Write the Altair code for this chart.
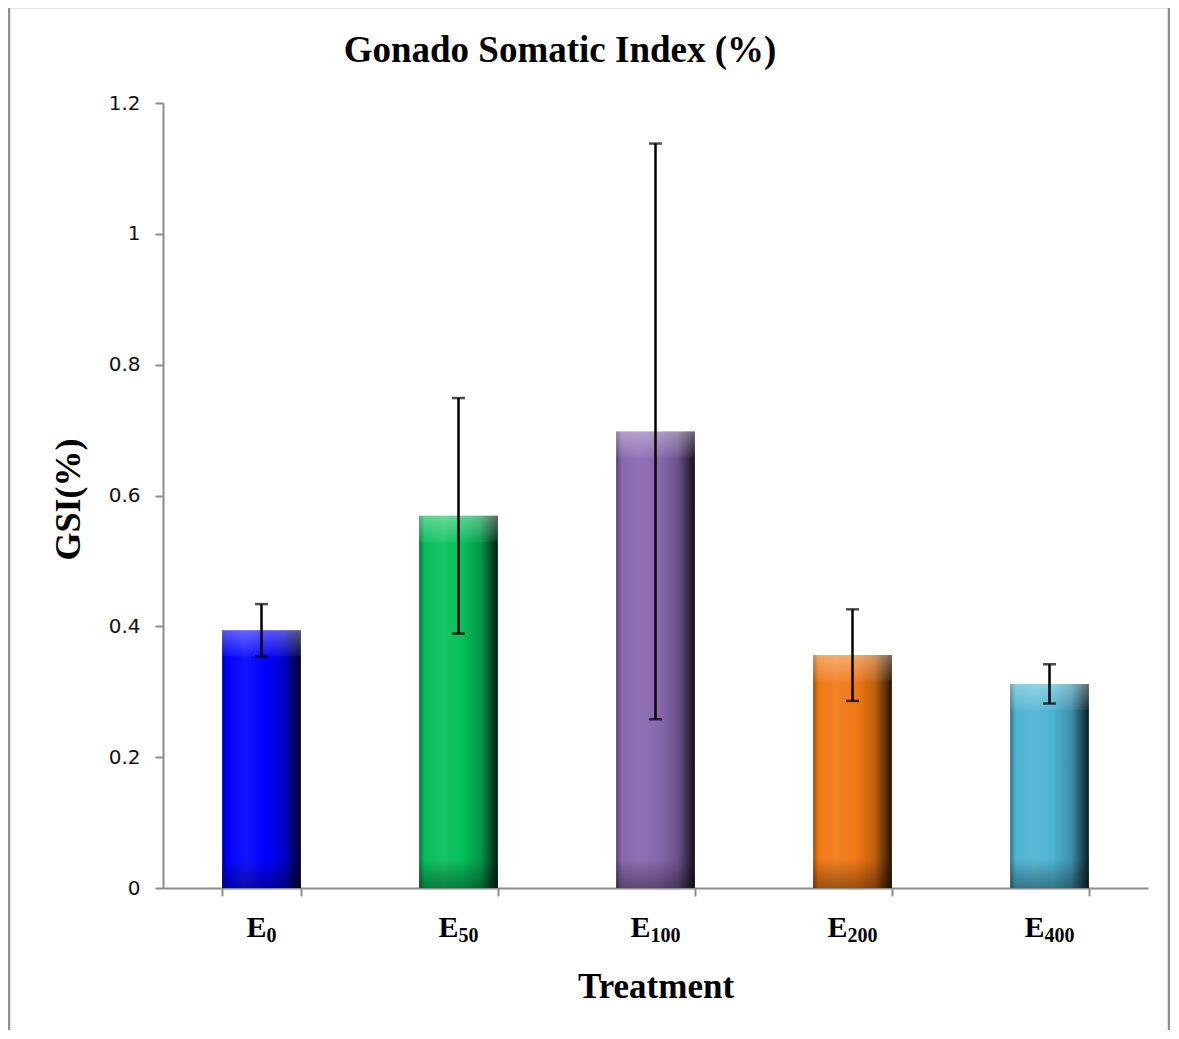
import altair as alt
import pandas as pd

# ---- data ----
treatments = ["E0", "E50", "E100", "E200", "E400"]
label_main = ["E", "E", "E", "E", "E"]
label_sub = ["0", "50", "100", "200", "400"]
gsi_mean = [0.394, 0.569, 0.698, 0.356, 0.312]
gsi_err = [0.040, 0.180, 0.440, 0.070, 0.030]
bar_colors = ["#0000FF", "#05BF5A", "#8767AD", "#F07814", "#4DB3D2"]
y_ticks = [0, 0.2, 0.4, 0.6, 0.8, 1.0, 1.2]
chart_title = "Gonado Somatic Index (%)"
x_title = "Treatment"
y_title = "GSI(%)"

df = pd.DataFrame({
    "treatment": treatments,
    "main": label_main,
    "sub": label_sub,
    "gsi": gsi_mean,
    "err": gsi_err,
})
df["lo"] = df["gsi"] - df["err"]
df["hi"] = df["gsi"] + df["err"]


def mix(hexc, target, t):
    h = hexc.lstrip("#")
    r, g, b = int(h[0:2], 16), int(h[2:4], 16), int(h[4:6], 16)
    tv = 255 if target == "white" else 0
    r = round(r + (tv - r) * t)
    g = round(g + (tv - g) * t)
    b = round(b + (tv - b) * t)
    return "#%02x%02x%02x" % (r, g, b)


def bar_gradient(c):
    stops = [
        (0.0, mix(c, "black", 0.35)),
        (0.07, c),
        (0.30, mix(c, "white", 0.08)),
        (0.55, c),
        (0.78, mix(c, "black", 0.2)),
        (0.92, mix(c, "black", 0.6)),
        (1.0, mix(c, "black", 0.85)),
    ]
    return alt.Gradient(
        gradient="linear",
        stops=[alt.GradientStop(offset=o, color=col) for o, col in stops],
        x1=0, x2=1, y1=0, y2=0,
    )


top_bevel = alt.Gradient(
    gradient="linear",
    stops=[
        alt.GradientStop(offset=0, color="rgba(255,255,255,0.35)"),
        alt.GradientStop(offset=1, color="rgba(255,255,255,0.05)"),
    ],
    x1=0, x2=0, y1=0, y2=1,
)
bottom_bevel = alt.Gradient(
    gradient="linear",
    stops=[
        alt.GradientStop(offset=0, color="rgba(0,0,0,0.0)"),
        alt.GradientStop(offset=1, color="rgba(0,0,0,0.35)"),
    ],
    x1=0, x2=0, y1=0, y2=1,
)

AXIS_GRAY = "#8c8c8c"
SERIF = "Liberation Serif"

x_scale = alt.Scale(domain=treatments, paddingInner=0.6, paddingOuter=0.3)
y_scale = alt.Scale(domain=[0, 1.2], nice=False, zero=True)

x_axis = alt.Axis(
    labels=False,
    title=x_title,
    titleFont=SERIF,
    titleFontSize=35,
    titleFontWeight="bold",
    titleColor="black",
    titleY=109,
    titleBaseline="alphabetic",
    tickBand="extent",
    tickSize=8,
    tickColor=AXIS_GRAY,
    tickWidth=2,
    domainColor=AXIS_GRAY,
    domainWidth=2,
    grid=False,
)
y_axis = alt.Axis(
    values=y_ticks,
    format="~g",
    grid=False,
    title=y_title,
    titleFont=SERIF,
    titleFontSize=36,
    titleFontWeight="bold",
    titleColor="black",
    titleAngle=270,
    titleAlign="center",
    titleBaseline="alphabetic",
    titleX=-84,
    titleY=396,
    labelFont="DejaVu Sans",
    labelFontSize=20,
    labelColor="#111111",
    labelPadding=15,
    tickSize=8,
    tickColor=AXIS_GRAY,
    tickWidth=2,
    domainColor=AXIS_GRAY,
    domainWidth=2,
)

x_enc = alt.X("treatment:N", scale=x_scale, axis=x_axis, sort=treatments)

base = alt.Chart(df)

layers = []
for t, c in zip(treatments, bar_colors):
    layers.append(
        base.transform_filter(alt.datum.treatment == t)
        .mark_bar(color=bar_gradient(c))
        .encode(x=x_enc, y=alt.Y("gsi:Q", scale=y_scale, axis=y_axis))
    )

# bevel highlights on top and bottom of each bar
layers.append(
    base.transform_calculate(bev="datum.gsi - 0.04")
    .mark_bar(color=top_bevel)
    .encode(x=x_enc, y=alt.Y("bev:Q", scale=y_scale, axis=y_axis), y2="gsi:Q")
)
layers.append(
    base.transform_calculate(b0="0", b1="0.045")
    .mark_bar(color=bottom_bevel)
    .encode(x=x_enc, y=alt.Y("b1:Q", scale=y_scale, axis=y_axis), y2="b0:Q")
)

# error bars
layers.append(
    base.mark_rule(color="black", strokeWidth=2.5).encode(
        x=x_enc,
        y=alt.Y("lo:Q", scale=y_scale, axis=y_axis),
        y2="hi:Q",
    )
)
for fld in ["lo", "hi"]:
    layers.append(
        base.mark_tick(orient="horizontal", size=13, thickness=2.5, color="black").encode(
            x=x_enc,
            y=alt.Y(f"{fld}:Q", scale=y_scale, axis=y_axis),
        )
    )

# x tick labels with subscripts
E_W = 20.0
DIG_W = 10.0
for t, s in zip(treatments, label_sub):
    total = E_W + DIG_W * len(s)
    sel = base.transform_filter(alt.datum.treatment == t)
    layers.append(
        sel.mark_text(
            align="left", baseline="alphabetic", dx=-total / 2,
            font=SERIF, fontSize=30, fontWeight="bold", color="black",
        ).encode(x=x_enc, y=alt.value(834), text="main:N")
    )
    layers.append(
        sel.mark_text(
            align="left", baseline="alphabetic", dx=-total / 2 + E_W,
            font=SERIF, fontSize=20, fontWeight="bold", color="black",
        ).encode(x=x_enc, y=alt.value(839), text="sub:N")
    )

# chart title
title_df = pd.DataFrame({"title": [chart_title]})
layers.append(
    alt.Chart(title_df).mark_text(
        align="center", baseline="alphabetic",
        font=SERIF, fontSize=37, fontWeight="bold", color="black",
    ).encode(x=alt.value(397), y=alt.value(-41), text="title:N")
)

# outer frame
frame_df = pd.DataFrame({"f": [1]})
layers.append(
    alt.Chart(frame_df).mark_rect(
        filled=False, stroke="#8f8f8f", strokeWidth=2.5
    ).encode(
        x=alt.value(-154), x2=alt.value(1006),
        y=alt.value(-96), y2=alt.value(960),
    )
)

chart = (
    alt.layer(*layers)
    .properties(
        width=985,
        height=785,
        autosize=alt.AutoSizeParams(type="none"),
        padding={"left": 155, "top": 95, "right": 22, "bottom": 142},
        background="white",
    )
    .configure_view(strokeWidth=0)
)

chart.save("out.html", embed_options={"renderer": "svg", "actions": False})
